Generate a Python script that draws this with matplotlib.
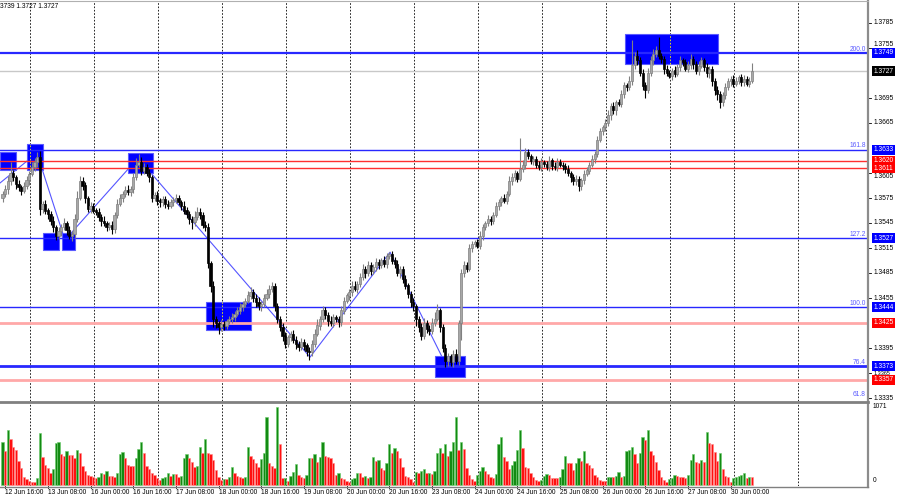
import numpy as np
import matplotlib
matplotlib.use('Agg')
import matplotlib.pyplot as plt
from matplotlib.patches import Rectangle
from matplotlib.lines import Line2D
from matplotlib.transforms import blended_transform_factory, offset_copy

plt.rcParams['font.family'] = ['Liberation Sans', 'DejaVu Sans']

# H1 closes in pips above 1.3000 (open = previous close)
first_open_pips = 575
close_pips = [
    580, 586, 595, 605, 600, 592, 588, 584, 590, 596, 604, 612, 618, 624, 562, 568, 560, 556, 548, 540,
    530, 535, 540, 545, 536, 530, 532, 550, 575, 595, 590, 575, 562, 565, 560, 558, 552, 548, 545, 540,
    542, 538, 555, 568, 575, 580, 585, 582, 586, 600, 615, 618, 608, 612, 605, 600, 575, 578, 572, 570,
    574, 568, 566, 570, 573, 575, 570, 566, 560, 556, 550, 546, 552, 558, 555, 543, 540, 497, 470, 430,
    425, 420, 424, 422, 427, 430, 432, 436, 440, 444, 448, 452, 458, 462, 455, 450, 445, 448, 455, 460,
    466, 470, 445, 430, 420, 410, 400, 408, 412, 405, 400, 396, 402, 398, 392, 390, 400, 412, 422, 430,
    440, 435, 428, 425, 432, 430, 426, 440, 452, 458, 462, 470, 466, 472, 480, 490, 485, 495, 488, 492,
    498, 494, 500, 496, 505, 508, 500, 496, 485, 490, 478, 470, 460, 450, 445, 430, 420, 410, 425, 418,
    415, 425, 430, 440, 420, 395, 380, 385, 378, 388, 380, 425, 485, 495, 490, 515, 520, 522, 518, 530,
    540, 545, 550, 548, 555, 565, 570, 575, 572, 580, 595, 600, 605, 598, 610, 615, 630, 625, 620, 622,
    615, 612, 618, 616, 612, 620, 614, 612, 618, 615, 613, 610, 605, 600, 595, 598, 590, 596, 604, 608,
    615, 622, 628, 645, 655, 660, 665, 675, 685, 680, 690, 688, 700, 710, 708, 715, 735, 745, 740, 725,
    710, 705, 725, 740, 748, 752, 745, 742, 730, 725, 722, 728, 724, 732, 740, 738, 730, 735, 742, 736,
    728, 734, 740, 732, 725, 730, 715, 705, 700, 690, 698, 708, 715, 718, 712, 716, 720, 714, 718, 712,
    716, 727,
]
upper_wick = [
    4, 5, 6, 13, 4, 3, 5, 3, 4, 5, 4, 6, 5, 6, 8, 4, 5, 3, 4, 6,
    3, 5, 4, 6, 3, 5, 4, 6, 8, 6, 5, 4, 3, 5, 4, 3, 5, 4, 6, 3,
    4, 5, 3, 6, 5, 4, 5, 6, 4, 5, 8, 10, 6, 5, 4, 5, 3, 4, 5, 3,
    4, 3, 5, 4, 3, 5, 4, 3, 5, 4, 3, 4, 8, 6, 5, 3, 4, 5, 3, 6,
    4, 3, 5, 4, 3, 4, 5, 3, 4, 5, 4, 3, 5, 6, 4, 5, 6, 4, 5, 6,
    5, 4, 3, 4, 3, 5, 4, 3, 4, 5, 4, 3, 5, 4, 3, 4, 5, 6, 8, 4,
    5, 4, 3, 5, 4, 3, 4, 5, 4, 3, 4, 5, 6, 4, 5, 6, 4, 5, 3, 4,
    5, 4, 3, 5, 4, 2, 3, 4, 5, 3, 4, 5, 3, 4, 5, 3, 4, 5, 6, 4,
    5, 6, 8, 8, 3, 4, 5, 4, 3, 5, 6, 4, 5, 4, 3, 5, 4, 3, 4, 5,
    4, 3, 5, 4, 3, 5, 4, 3, 5, 4, 6, 5, 4, 3, 37, 6, 5, 4, 3, 4,
    3, 4, 5, 3, 4, 5, 3, 4, 5, 4, 3, 4, 5, 3, 4, 5, 4, 3, 5, 4,
    3, 5, 4, 5, 4, 3, 5, 6, 4, 5, 3, 4, 5, 4, 3, 6, 30, 5, 8, 4,
    5, 4, 6, 5, 6, 5, 16, 4, 3, 5, 4, 3, 5, 4, 6, 3, 4, 5, 6, 4,
    3, 5, 4, 3, 5, 4, 3, 4, 5, 3, 4, 5, 4, 3, 5, 4, 3, 4, 5, 3,
    4, 10,
]
lower_wick = [
    5, 4, 6, 4, 5, 6, 4, 5, 3, 4, 5, 3, 4, 6, 7, 5, 4, 6, 5, 6,
    5, 4, 6, 4, 5, 4, 6, 5, 4, 3, 5, 6, 4, 5, 3, 4, 5, 6, 4, 5,
    4, 6, 5, 4, 3, 5, 4, 3, 4, 5, 4, 3, 5, 4, 3, 6, 5, 4, 5, 6,
    4, 5, 4, 3, 5, 4, 3, 5, 4, 5, 6, 8, 4, 3, 5, 4, 5, 6, 8, 10,
    6, 8, 4, 5, 4, 3, 5, 4, 3, 4, 5, 4, 3, 4, 5, 6, 4, 5, 4, 3,
    5, 4, 6, 5, 4, 6, 5, 4, 5, 4, 6, 5, 4, 5, 6, 9, 5, 4, 3, 5,
    4, 5, 6, 4, 5, 4, 6, 5, 4, 3, 5, 4, 3, 5, 4, 3, 6, 4, 5, 4,
    5, 4, 3, 4, 5, 3, 4, 5, 4, 6, 5, 4, 5, 6, 5, 8, 6, 5, 4, 5,
    4, 3, 4, 3, 6, 5, 8, 6, 5, 6, 4, 5, 20, 5, 4, 3, 5, 4, 3, 4,
    5, 4, 3, 5, 4, 3, 4, 5, 3, 4, 3, 4, 5, 4, 3, 4, 5, 3, 4, 5,
    4, 3, 5, 4, 3, 4, 5, 3, 4, 3, 4, 5, 4, 6, 5, 4, 6, 5, 4, 3,
    4, 3, 5, 4, 3, 4, 5, 3, 6, 4, 5, 3, 4, 5, 4, 3, 4, 5, 6, 4,
    5, 10, 4, 3, 5, 4, 3, 5, 6, 4, 3, 5, 4, 3, 4, 5, 3, 4, 5, 6,
    4, 5, 3, 4, 5, 6, 5, 6, 8, 7, 5, 4, 3, 5, 4, 3, 4, 5, 4, 3,
    4, 3,
]
volume = [
    590, 465, 752, 625, 524, 479, 333, 228, 114, 78, 59, 46, 35, 91, 707, 388, 274, 228, 169, 214,
    579, 584, 424, 397, 470, 406, 406, 365, 479, 433, 260, 192, 137, 123, 105, 91, 105, 160, 150, 196,
    123, 123, 105, 160, 424, 451, 374, 274, 260, 260, 365, 497, 597, 442, 260, 214, 160, 137, 91, 68,
    91, 105, 160, 123, 146, 146, 105, 123, 365, 420, 365, 319, 251, 260, 515, 433, 638, 442, 420, 342,
    205, 105, 68, 78, 78, 105, 250, 160, 123, 105, 91, 114, 515, 397, 351, 306, 242, 351, 442, 935,
    296, 260, 228, 1071, 556, 91, 100, 60, 123, 182, 287, 137, 114, 91, 137, 365, 365, 424, 319, 378,
    593, 401, 388, 365, 296, 137, 169, 91, 78, 55, 46, 78, 91, 160, 160, 114, 123, 91, 105, 388,
    333, 342, 228, 205, 296, 561, 442, 502, 470, 365, 242, 123, 105, 78, 46, 182, 160, 196, 214, 160,
    169, 150, 196, 442, 502, 442, 561,
    397, 470, 593, 935, 479, 593, 488, 228, 137, 78, 59, 137, 196, 251, 196, 150, 105, 91, 146, 561,
    652, 378, 333, 214, 274, 333, 479, 752, 502, 251, 228, 169, 105, 68, 59, 68, 123, 150, 137, 91,
    91, 91, 105, 223, 397, 306, 296, 205, 306, 365, 328, 470, 296, 274, 228, 137, 105, 68, 59, 59,
    105, 114, 114, 123, 182, 105, 123, 470, 479, 524, 424, 306, 442, 661, 616, 761, 470, 410, 319, 205,
    105, 68, 46, 78, 91, 137, 123, 105, 105, 91, 137, 342, 424, 319, 306, 342, 319, 730, 579, 561,
    456, 333, 442, 214, 123, 105, 46, 91, 105, 123, 137, 160, 91, 105, 105,
]

date_labels = ['12 Jun 16:00', '13 Jun 08:00', '16 Jun 00:00', '16 Jun 16:00', '17 Jun 08:00',
               '18 Jun 00:00', '18 Jun 16:00', '19 Jun 08:00', '20 Jun 00:00', '20 Jun 16:00',
               '23 Jun 08:00', '24 Jun 00:00', '24 Jun 16:00', '25 Jun 08:00', '26 Jun 00:00',
               '26 Jun 16:00', '27 Jun 08:00', '30 Jun 00:00']
# ticks fully hidden behind the level boxes are left out
price_ticks = [1.3335, 1.3365, 1.3395, 1.3455, 1.3485, 1.3515, 1.3545, 1.3575,
               1.3605, 1.3665, 1.3695, 1.3755, 1.3785]
# labels squeezed by a level box are nudged (pixels, + = down)
tick_nudge = {1.3755: -4, 1.3605: 4, 1.3365: 0.5}

fib_levels = [1.3749, 1.3633, 1.3527, 1.3444, 1.3373, 1.3327]
fib_names = ['200.0', '161.8', '127.2', '100.0', '76.4', '61.8']
fib_width = [1.6, 1.0, 1.0, 1.0, 2.0, 1.0]
red_levels = [1.3620, 1.3611, 1.3425, 1.3357]
red_colors = ['#ff3030', '#ff3030', '#ffa8a8', '#ffa8a8']
red_width = [1.0, 1.0, 2.0, 2.0]
last_price = 1.3727

# blue zones: bar from, bar to, price low, price high
zones = [(-0.94, 5.06, 1.36086, 1.36300), (9.19, 15.19, 1.36086, 1.36398),
         (15.19, 21.19, 1.35126, 1.35330), (22.3, 27.2, 1.35126, 1.35330),
         (47.1, 56.4, 1.36050, 1.36290), (76.3, 93.2, 1.34170, 1.34500),
         (162.2, 173.4, 1.33600, 1.33850), (233.4, 268.3, 1.37360, 1.37720)]
zz_bar = [-0.94, 12.9, 23.4, 50.8, 115.3, 145.3, 166.7]
zz_price = [1.3593, 1.3629, 1.35246, 1.3623, 1.3384, 1.3510, 1.3372]

assert len(close_pips) == len(upper_wick) == len(lower_wick) == len(volume) == 282

closes = 1.3 + np.array(close_pips) / 10000
opens = np.concatenate([[1.3 + first_open_pips / 10000], closes[:-1]])
highs = np.maximum(opens, closes) + np.array(upper_wick) / 10000
lows = np.minimum(opens, closes) - np.array(lower_wick) / 10000
idx = np.arange(len(closes))

W, H = 900, 500
fig = plt.figure(figsize=(9, 5), dpi=100, facecolor='white')
fx = lambda px: px / W
fy = lambda py: 1 - py / H

ax = fig.add_axes([0, fy(401), fx(868), (401 - 2) / H])
axv = fig.add_axes([0, fy(486), fx(868), (486 - 404) / H])
xlim = (-0.94, 324.5)
for a in (ax, axv):
    a.set_xlim(*xlim)
    for s in a.spines.values():
        s.set_visible(False)
    a.set_xticks([])
    a.set_yticks([])
ax.set_ylim(1.33314, 1.38102)
axv.set_ylim(-14, 1112)

# daily grid
grid_bars = [10.3 + 24 * k for k in range(13)]
for g in grid_bars:
    ax.axvline(g, color='black', lw=0.6, ls=(0, (2, 2)), zorder=0.5)
    axv.axvline(g, color='black', lw=0.6, ls=(0, (2, 2)), zorder=0.5)

# zigzag
ax.plot(zz_bar, zz_price, color='#5555ff', lw=0.8, zorder=1.2)

# zones
for b0, b1, lo, hi in zones:
    ax.add_patch(Rectangle((b0, lo), b1 - b0, hi - lo, facecolor='#0000ff',
                           edgecolor='#5a5aff', lw=0.8, zorder=2))
    for g in grid_bars:
        if b0 < g < b1:
            ax.plot([g, g], [lo, hi], color='#ffff00', lw=0.6, ls=(0, (2, 2)), zorder=2.1)

# horizontal levels
ax.axhline(last_price, color='#c8c8c8', lw=1.0, zorder=1)
for lv, w in zip(fib_levels, fib_width):
    ax.axhline(lv, color='#2828ff', lw=w, zorder=2.5)
for lv, c, w in zip(red_levels, red_colors, red_width):
    ax.axhline(lv, color=c, lw=w, zorder=2.5)

# candles
bull = closes >= opens
body_lo = np.minimum(opens, closes)
body_h = np.maximum(np.abs(closes - opens), 0.00007)
ax.vlines(idx, lows, highs, colors=np.where(bull, '#808080', 'black'), lw=0.8, zorder=3)
ax.bar(idx, body_h, bottom=body_lo, width=0.8,
       color=np.where(bull, '#a8a8a8', 'black'),
       edgecolor=np.where(bull, '#808080', 'black'), lw=0.5, zorder=3.1)

# volumes (green when rising vs previous bar)
vol = np.array(volume)
rising = np.concatenate([[True], vol[1:] > vol[:-1]])
axv.bar(idx, vol, width=0.85, color=np.where(rising, '#138a13', '#ff1010'),
        edgecolor=np.where(rising, '#6ccc6c', '#ff8a8a'), lw=0.4, zorder=2)

fs = 4.8
ytr = ax.get_yaxis_transform()
for t in price_ticks:
    ax.plot([1.0, 1.004], [t, t], transform=ytr, color='black', lw=0.6, clip_on=False)
    tr = offset_copy(ytr, fig=fig, x=0, y=-tick_nudge.get(t, 0), units='dots')
    ax.text(1.006, t, f'{t:.4f}', transform=tr, fontsize=fs if t != 1.3365 else 4.0,
            va='center', ha='left', clip_on=False, zorder=4)

def price_box(v, color):
    ax.text(1.0065, v, f'{v:.4f}', transform=ytr, fontsize=fs, va='center', ha='left',
            color='white', clip_on=False, zorder=6,
            bbox=dict(boxstyle='square,pad=0.22', fc=color, ec='none'))

for lv in fib_levels[:-1]:
    price_box(lv, '#0000ff')
for lv in red_levels:
    price_box(lv, '#ff0000')
price_box(last_price, 'black')

for lv, nm in zip(fib_levels, fib_names):
    ax.text(0.9975, max(lv, 1.33345) + 0.00004, nm, transform=ytr, fontsize=fs,
            ha='right', va='bottom', color='#5a5aff', clip_on=False, zorder=5)

# time axis labels
xtr = blended_transform_factory(axv.transData, axv.transAxes)
for k, lab in enumerate(date_labels):
    b = 1 + 16 * k
    axv.plot([b, b], [0, -0.03], transform=xtr, color='black', lw=0.6, clip_on=False)
    axv.text(b, -0.075, lab, transform=xtr, fontsize=fs, ha='left', va='center', clip_on=False)

fig.text(fx(873), fy(407), '1071', fontsize=fs, va='center', ha='left')
fig.text(fx(873), fy(481), '0', fontsize=fs, va='center', ha='left')
fig.text(0, fy(7), '3739 1.3727 1.3727', fontsize=fs, va='center', ha='left')

# frame lines
fig.add_artist(Line2D([fx(868), fx(868)], [fy(0), fy(487)], color='#8c8c8c', lw=1.6))
fig.add_artist(Line2D([0, fx(868)], [fy(402), fy(402)], color='#808080', lw=2.0))
fig.add_artist(Line2D([0, fx(868)], [fy(486.5), fy(486.5)], color='#808080', lw=1.0))
fig.add_artist(Line2D([0, fx(868)], [fy(1), fy(1)], color='#b0b0b0', lw=0.8))

fig.savefig('out.png', dpi=100)
